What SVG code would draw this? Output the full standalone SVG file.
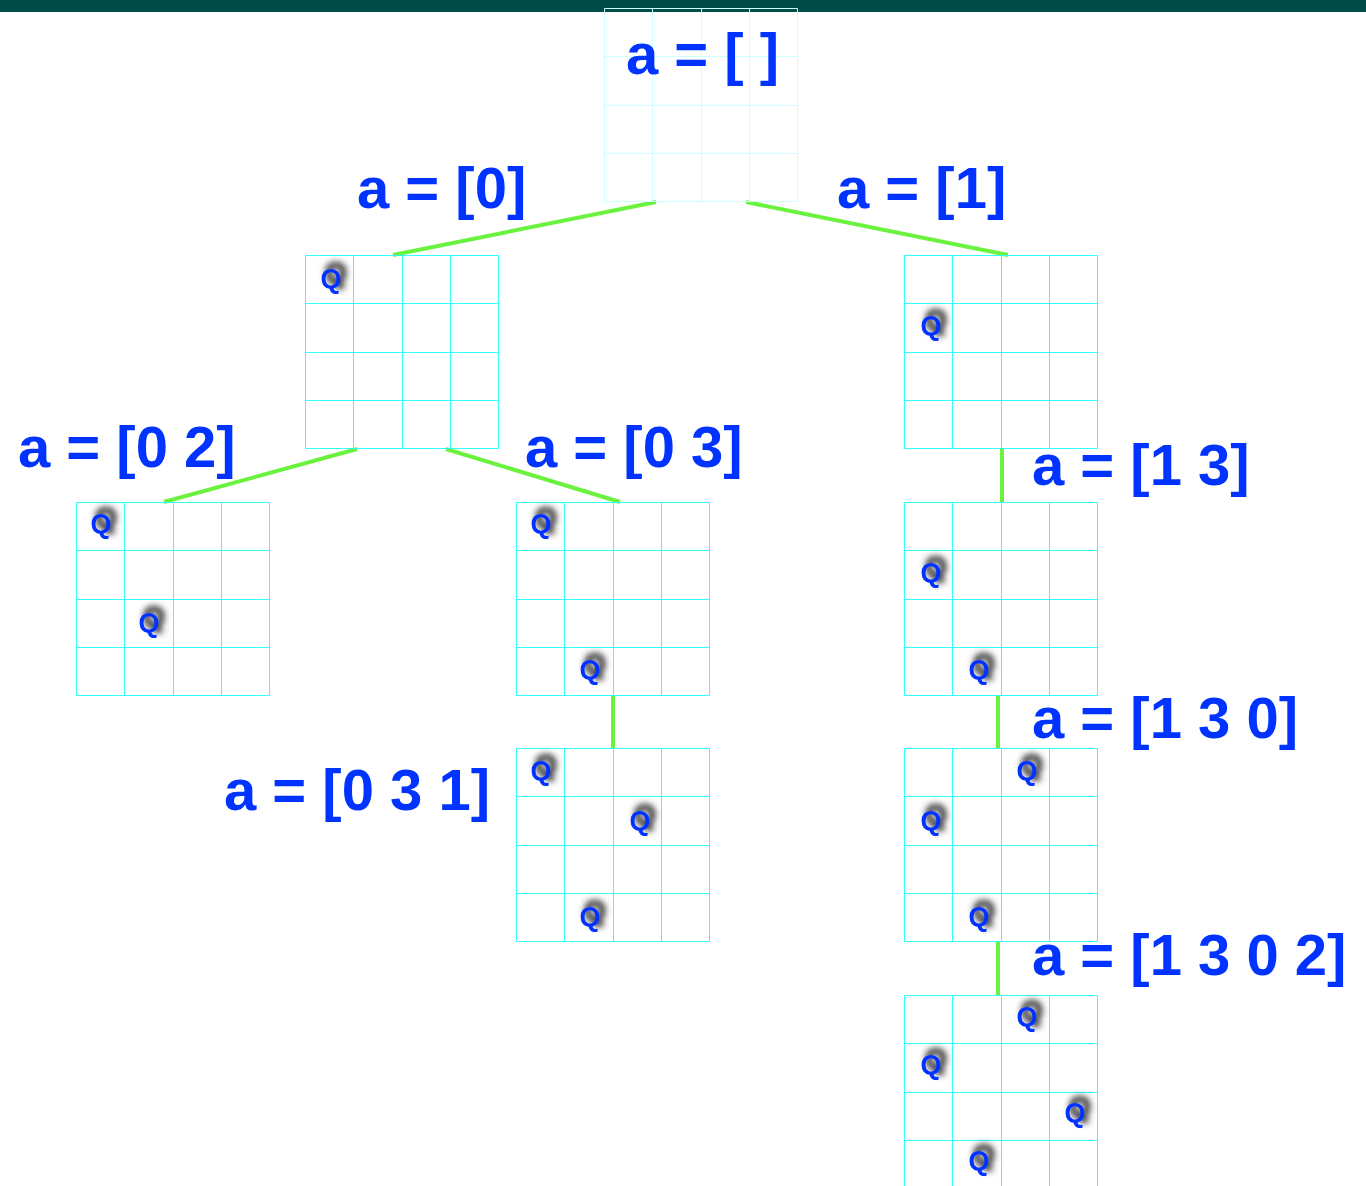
<svg xmlns="http://www.w3.org/2000/svg" xmlns:xlink="http://www.w3.org/1999/xlink" width="1366" height="1186" viewBox="0 0 1366 1186">
<style>
.lbl{font-family:"Liberation Sans",Arial,sans-serif;font-weight:bold;font-size:58px;fill:#0033ff}
.q{font-family:"Liberation Sans",Arial,sans-serif;font-weight:bold;font-size:27px;fill:#0033ff;text-anchor:middle;filter:url(#qs)}
.grid{fill:none;stroke:#33ffff;stroke-width:1}
.faint{fill:none;stroke:#ccffff;stroke-width:1}
.edge{stroke:#6af23f;stroke-width:4;fill:none}
</style>
<defs>
<filter id="qs" x="-50%" y="-50%" width="200%" height="200%">
<feFlood flood-color="#333333" result="c"/>
<feComposite in="c" in2="SourceAlpha" operator="in" result="s"/>
<feMorphology in="s" operator="dilate" radius="1" result="d"/>
<feGaussianBlur in="d" stdDeviation="3.2" result="b"/>
<feOffset in="b" dx="5" dy="-6" result="o"/>
<feMerge><feMergeNode in="o"/><feMergeNode in="SourceGraphic"/></feMerge>
</filter>
<path id="g" d="M0.5,0.5H193.5V193.5H0.5Z M48.5,0.5V193.5 M97.5,0.5V193.5 M145.5,0.5V193.5 M0.5,48.5H193.5 M0.5,97.5H193.5 M0.5,145.5H193.5"/>
</defs>
<rect x="0" y="0" width="1366" height="12" fill="#004c48"/>
<g id="connectors">
<line class="edge" x1="656" y1="202" x2="393" y2="255"/>
<line class="edge" x1="746" y1="202" x2="1008" y2="255"/>
<line class="edge" x1="357" y1="449" x2="164" y2="502"/>
<line class="edge" x1="446" y1="449" x2="620" y2="502"/>
<line class="edge" x1="613" y1="695" x2="613" y2="748"/>
<line class="edge" x1="1002" y1="449" x2="1002" y2="502"/>
<line class="edge" x1="998" y1="695" x2="998" y2="748"/>
<line class="edge" x1="998" y1="942" x2="998" y2="995"/>
</g>
<g id="node-root">
<use xlink:href="#g" class="faint" transform="translate(604,8)"/>
<text class="lbl" x="626" y="74">a = [ ]</text>
</g>
<g id="node-0">
<use xlink:href="#g" class="grid" transform="translate(305,255)"/>
<text class="lbl" x="357" y="208">a = [0]</text>
<text class="q" x="331" y="288">Q</text>
</g>
<g id="node-1">
<use xlink:href="#g" class="grid" transform="translate(904,255)"/>
<text class="lbl" x="837" y="208">a = [1]</text>
<text class="q" x="931" y="335">Q</text>
</g>
<g id="node-02">
<use xlink:href="#g" class="grid" transform="translate(76,502)"/>
<text class="lbl" x="18" y="467">a = [0 2]</text>
<text class="q" x="101" y="533">Q</text>
<text class="q" x="149" y="632">Q</text>
</g>
<g id="node-03">
<use xlink:href="#g" class="grid" transform="translate(516,502)"/>
<text class="lbl" x="525" y="467">a = [0 3]</text>
<text class="q" x="541" y="533">Q</text>
<text class="q" x="590" y="679">Q</text>
</g>
<g id="node-13">
<use xlink:href="#g" class="grid" transform="translate(904,502)"/>
<text class="lbl" x="1032" y="485">a = [1 3]</text>
<text class="q" x="931" y="582">Q</text>
<text class="q" x="979" y="679">Q</text>
</g>
<g id="node-031">
<use xlink:href="#g" class="grid" transform="translate(516,748)"/>
<text class="lbl" x="224" y="810">a = [0 3 1]</text>
<text class="q" x="541" y="780">Q</text>
<text class="q" x="640" y="830">Q</text>
<text class="q" x="590" y="926">Q</text>
</g>
<g id="node-130">
<use xlink:href="#g" class="grid" transform="translate(904,748)"/>
<text class="lbl" x="1032" y="738">a = [1 3 0]</text>
<text class="q" x="1027" y="780">Q</text>
<text class="q" x="931" y="830">Q</text>
<text class="q" x="979" y="926">Q</text>
</g>
<g id="node-1302">
<use xlink:href="#g" class="grid" transform="translate(904,995)"/>
<text class="lbl" x="1032" y="975">a = [1 3 0 2]</text>
<text class="q" x="1027" y="1026">Q</text>
<text class="q" x="931" y="1074">Q</text>
<text class="q" x="1075" y="1122">Q</text>
<text class="q" x="979" y="1170">Q</text>
</g>
</svg>
